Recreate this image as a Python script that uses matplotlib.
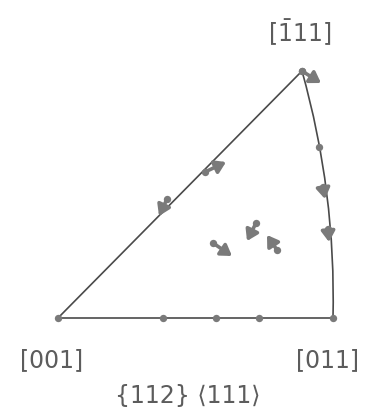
import matplotlib
matplotlib.use("Agg")
import matplotlib.pyplot as plt
from matplotlib.path import Path
from matplotlib.patches import PathPatch

# corner poles of the standard triangle (image pixel units, y down)
pole_names = [r"[001]", r"[011]", r"[$\mathregular{\bar{1}}$11]"]
pole_x = [58, 333, 302]
pole_y = [318, 318, 71]
label_x = [52, 328, 300]
label_y = [360, 360, 33]

# orientations lying on the triangle edges
dot_x = [163, 216, 259, 319]
dot_y = [318, 318, 318, 147]

# rotation of each orientation: start -> end
arrow_x0 = [302, 205, 167, 213, 256, 277, 323, 328]
arrow_y0 = [71, 172, 199, 243, 223, 250, 187, 229]
arrow_x1 = [321, 226, 159, 232, 247, 267, 325, 329]
arrow_y1 = [83, 162, 216, 256, 241, 235, 199, 242]

title = "{112} \u27e8111\u27e9"

line_c = "#4a4a4a"
mark_c = "#7a7a7a"
text_c = "#5c5c5c"

plt.rcParams["font.family"] = ["DejaVu Sans", "Noto Sans CJK SC"]

fig = plt.figure(figsize=(3.67, 4.09), dpi=100)
ax = fig.add_axes([0, 0, 1, 1])
ax.set_xlim(0, 367)
ax.set_ylim(409, 0)
ax.axis("off")

# straight edges [001]-[011] and [001]-[-111]
ax.plot([pole_x[1], pole_x[0], pole_x[2]], [pole_y[1], pole_y[0], pole_y[2]],
        color=line_c, lw=1.2, solid_capstyle="round")
# great-circle edge [011]-[-111]
arc = Path([(pole_x[1], pole_y[1]), (336, 192), (pole_x[2], pole_y[2])],
           [Path.MOVETO, Path.CURVE3, Path.CURVE3])
ax.add_patch(PathPatch(arc, fill=False, color=line_c, lw=1.2))

ax.scatter(pole_x, pole_y, s=28, color=mark_c, zorder=3, lw=0)
ax.scatter(dot_x, dot_y, s=28, color=mark_c, zorder=3, lw=0)
ax.scatter(arrow_x0, arrow_y0, s=28, color=mark_c, zorder=3, lw=0)

for x0, y0, x1, y1 in zip(arrow_x0, arrow_y0, arrow_x1, arrow_y1):
    ax.annotate("", xy=(x1, y1), xytext=(x0, y0),
                arrowprops=dict(arrowstyle="-|>,head_length=0.7,head_width=0.45",
                                mutation_scale=9, color=mark_c, lw=2.6,
                                shrinkA=0, shrinkB=0))

for name, x, y in zip(pole_names, label_x, label_y):
    ax.text(x, y, name, ha="center", va="center", fontsize=17, color=text_c)
ax.text(188, 396, title, ha="center", va="center", fontsize=17, color=text_c)

fig.savefig("out.png", dpi=100)
